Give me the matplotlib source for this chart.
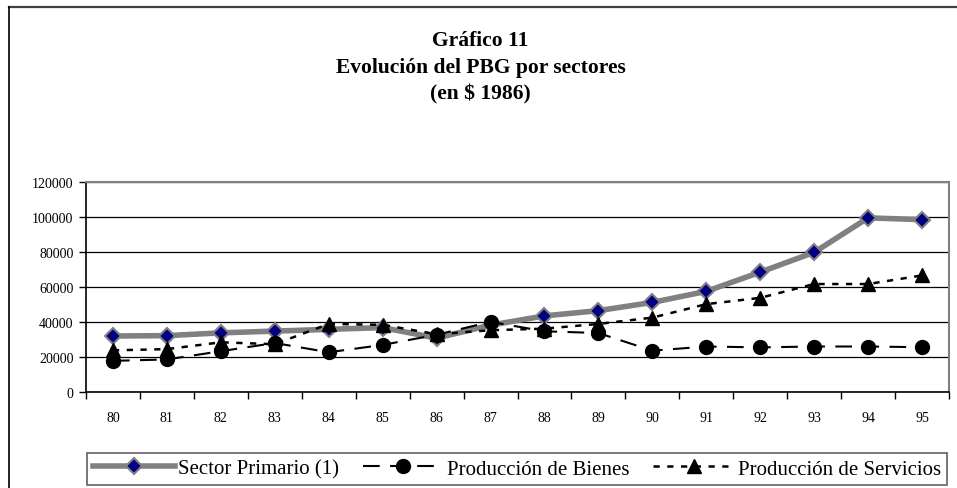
import numpy as np
import matplotlib.pyplot as plt
from matplotlib.lines import Line2D

plt.rcParams['font.family'] = ['Liberation Serif', 'DejaVu Serif']

years = ["80", "81", "82", "83", "84", "85", "86", "87",
         "88", "89", "90", "91", "92", "93", "94", "95"]
primario = [32000, 32200, 33800, 34800, 35800, 36800, 30800, 38200,
            43500, 46500, 51200, 57500, 68500, 79800, 99500, 98500]
bienes = [17800, 18600, 23300, 28000, 22700, 26900, 32700, 40100,
          34700, 33700, 23600, 26000, 25500, 26000, 26000, 25600]
servicios = [23800, 24500, 28400, 27300, 38900, 38400, 33000, 35300,
             36200, 38900, 42500, 50200, 53800, 61700, 61700, 66600]
yticks = [0, 20000, 40000, 60000, 80000, 100000, 120000]

W, H = 957, 489
fig = plt.figure(figsize=(W / 100, H / 100), dpi=100)

# outer chart frame (clipped at right and bottom like the source)
fig.add_artist(Line2D([8.5 / W, 1.0], [1 - 8 / H, 1 - 8 / H], transform=fig.transFigure,
                      color="#404040", lw=1.6))
fig.add_artist(Line2D([8.5 / W, 8.5 / W], [0.0, 1 - 8 / H], transform=fig.transFigure,
                      color="black", lw=1.2))

fig.text(0.502, 1 - 68 / H, "Gráfico 11\nEvolución del PBG por sectores\n(en $ 1986)",
         ha="center", va="center", fontsize=15.5, fontweight="bold", linespacing=1.46)

ax = fig.add_axes([86 / W, 1 - 393 / H, (949 - 86) / W, (393 - 183) / H])
x = np.arange(len(years))

ax.plot(x, primario, color="#808080", lw=4, marker="D", ms=8.5,
        mfc="#000080", mec="#808080", mew=1.5, label="Sector Primario (1)", zorder=3)
ax.plot(x, bienes, color="black", lw=1.5, dashes=(8, 5), marker="o", ms=10,
        mfc="black", mec="black", label="Producción de Bienes", zorder=4)
ax.plot(x, servicios, color="black", lw=1.8, dashes=(2.5, 3), marker="^", ms=10,
        mfc="black", mec="black", label="Producción de Servicios", zorder=5)

ax.set_xlim(-0.5, len(years) - 0.5)
ax.set_ylim(0, 120000)
ax.set_yticks(yticks)
ax.set_yticklabels([str(v) for v in yticks], fontsize=10)
ax.yaxis.grid(True, color="black", lw=0.9)
ax.set_axisbelow(True)

ax.set_xticks(x)
ax.set_xticklabels(years, fontsize=10)
ax.set_xticks(np.arange(-0.5, len(years)), minor=True)
ax.tick_params(axis="x", which="major", length=0, pad=14)
ax.tick_params(axis="x", which="minor", length=5, width=1, direction="out")
ax.tick_params(axis="y", length=5, width=1, direction="out", pad=4)

for s in ["top", "right"]:
    ax.spines[s].set_color("#808080")
    ax.spines[s].set_linewidth(1.5)
for s in ["left", "bottom"]:
    ax.spines[s].set_color("black")
    ax.spines[s].set_linewidth(1.2)

leg = fig.legend(loc="lower left", bbox_to_anchor=(87 / W, 3 / H, (947 - 87) / W, 34 / H),
                 mode="expand", ncol=3, fontsize=15, handlelength=3.9, handletextpad=0.15,
                 columnspacing=0.55, borderpad=0.3, borderaxespad=0.0, fancybox=False,
                 edgecolor="#606060", framealpha=1)
leg.get_frame().set_linewidth(1.2)

fig.savefig("out.png", dpi=100)
